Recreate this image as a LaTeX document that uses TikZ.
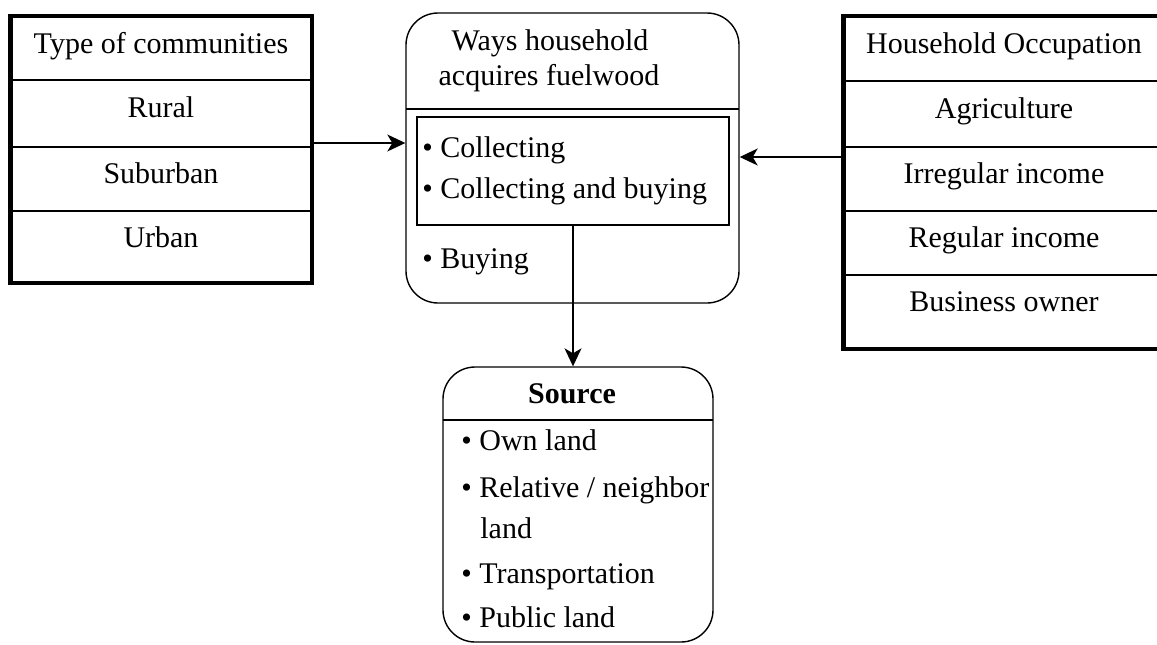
\documentclass[tikz,border=0pt]{standalone}
\usepackage{fontspec}
\setmainfont{Liberation Serif}
\usetikzlibrary{arrows.meta}
\begin{document}
\begin{tikzpicture}[x=0.5pt,y=-0.5pt,
  txt/.style={font=\fontsize{15}{18}\selectfont, inner sep=0pt, anchor=base},
  btxt/.style={txt, anchor=base west},
  frame/.style={draw, line width=2.25pt, inner sep=0pt},
  rowline/.style={line width=0.6pt},
  rbox/.style={draw, line width=0.7pt, rounded corners=16pt, inner sep=0pt},
  ibox/.style={draw, line width=0.6pt, inner sep=0pt},
  arr/.style={line width=0.6pt, -{Stealth[length=9pt,width=8.5pt,inset=2.5pt]}}]
\useasboundingbox (0,0) rectangle (1157,644);

% Left table: Type of communities
\node[frame, minimum width=150.75pt, minimum height=133.5pt] (types) at (161.25,149.5) {};
\draw[rowline] (10.5,80) -- (312,80);
\draw[rowline] (10.5,147) -- (312,147);
\draw[rowline] (10.5,211) -- (312,211);
\node[txt] (t0) at (161,53) {Type of communities};
\node[txt] (t1) at (161,117) {Rural};
\node[txt] (t2) at (161,183) {Suburban};
\node[txt] (t3) at (161,247) {Urban};

% Right table: Household Occupation
\node[frame, minimum width=159.75pt, minimum height=166.5pt] (occ) at (1003.25,182.5) {};
\draw[rowline] (843.5,81) -- (1163,81);
\draw[rowline] (843.5,147) -- (1163,147);
\draw[rowline] (843.5,211) -- (1163,211);
\draw[rowline] (843.5,275) -- (1163,275);
\node[txt] (o0) at (1004,53) {Household Occupation};
\node[txt] (o1) at (1004,118) {Agriculture};
\node[txt] (o2) at (1004,183) {Irregular income};
\node[txt] (o3) at (1004,247) {Regular income};
\node[txt] (o4) at (1004,311) {Business owner};

% Middle box: Ways household acquires fuelwood
\node[rbox, minimum width=166.5pt, minimum height=145pt] (ways) at (572.5,158) {};
\draw[rowline] (406,109) -- (739,109);
\node[ibox, minimum width=156pt, minimum height=54pt] (acq) at (573,171) {};
\node[txt] (w1) at (550,50) {Ways household};
\node[txt] (w2) at (549,85) {acquires fuelwood};
\node[btxt] (c1) at (422,157) {• Collecting};
\node[btxt] (c2) at (422,198) {• Collecting and buying};
\node[btxt] (c3) at (422,268) {• Buying};

% Source box
\node[rbox, minimum width=135pt, minimum height=137.5pt] (src) at (578,504.5) {};
\draw[rowline] (443,420) -- (713,420);
\node[txt, font=\fontsize{15}{18}\selectfont\bfseries] (s0) at (572,403) {Source};
\node[btxt] (s1) at (461,450) {• Own land};
\node[btxt] (s2) at (461,497) {• Relative / neighbor};
\node[btxt] (s2b) at (480,538) {land};
\node[btxt] (s3) at (461,583) {• Transportation};
\node[btxt] (s4) at (461,627) {• Public land};

% Connectors
\draw[arr] (types.east |- 0,143) -- (ways.west |- 0,143);
\draw[arr] (occ.west |- 0,157) -- (ways.east |- 0,157);
\draw[arr] (acq.south) -- (acq.south |- src.north);
\end{tikzpicture}
\end{document}
